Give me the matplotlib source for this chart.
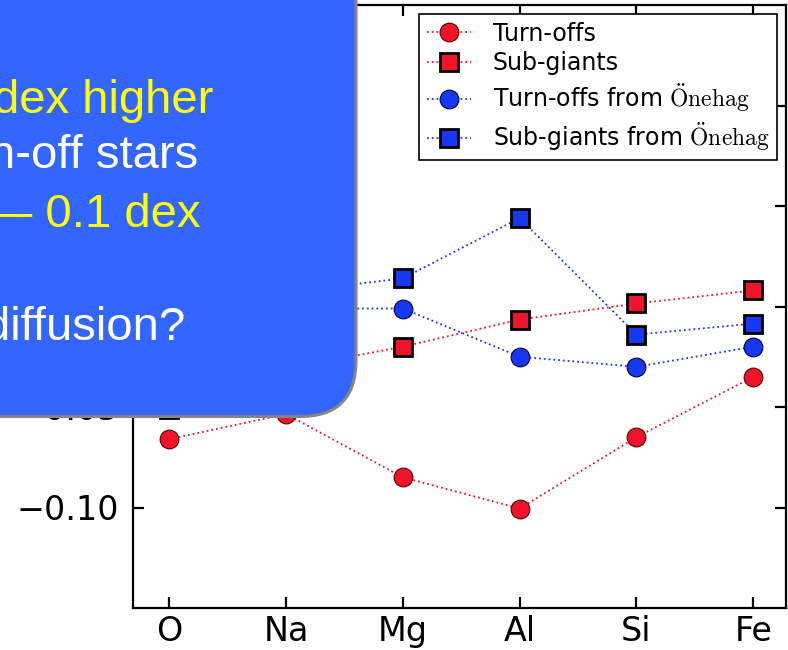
import numpy as np
import matplotlib
matplotlib.use("Agg")
import matplotlib.pyplot as plt
from matplotlib.patches import FancyBboxPatch

# element abundances, differences in dex
elements = ['O', 'Na', 'Mg', 'Al', 'Si', 'Fe']
turnoffs = [-0.066, -0.0535, -0.085, -0.1005, -0.065, -0.035]
subgiants = [-0.040, -0.031, -0.020, -0.0065, 0.0015, 0.008]
onehag_turnoffs = [-0.015, -0.001, -0.001, -0.025, -0.030, -0.020]
onehag_subgiants = [-0.051, 0.007, 0.014, 0.044, -0.014, -0.0085]
yticks = [-0.10, -0.05, 0.00, 0.05, 0.10]

# slide text lying over the plot
box_lines = ['dex higher', 'n-off stars', '\u2014 0.1 dex', 'diffusion?']
box_colors = ['#FFFF00', 'white', '#FFFF00', 'white']

plt.rcParams['mathtext.fontset'] = 'cm'

red = '#F0142A'
blue = '#1538F0'

fig = plt.figure(figsize=(7.88, 6.5), dpi=100)
ax = fig.add_axes([133/788, 42/650, 653/788, 603/650])

x = np.arange(len(elements))
ax.plot(x, turnoffs, ':', color=red, lw=1.3, marker='o', ms=13.5,
        mfc=red, mec='#550000', mew=0.8, label='Turn-offs')
ax.plot(x, subgiants, ':', color=red, lw=1.3, marker='s', ms=13.5,
        mfc=red, mec='k', mew=2, label='Sub-giants')
ax.plot(x, onehag_turnoffs, ':', color=blue, lw=1.3, marker='o', ms=13.5,
        mfc=blue, mec='#000044', mew=0.8,
        label=r'Turn-offs from $\mathrm{\ddot{O}nehag}$')
ax.plot(x, onehag_subgiants, ':', color=blue, lw=1.3, marker='s', ms=13.5,
        mfc=blue, mec='k', mew=2,
        label=r'Sub-giants from $\mathrm{\ddot{O}nehag}$')

ax.set_xlim(-0.31, 5.28)
ax.set_ylim(-0.15, 0.15)
ax.set_xticks(x)
ax.set_xticklabels(elements)
ax.set_yticks(yticks)
ax.tick_params(direction='in', top=True, right=True, length=8, width=1.6,
               labelsize=24)
ax.tick_params(axis='x', pad=5)
ax.tick_params(axis='y', pad=10)
for s in ax.spines.values():
    s.set_linewidth(1.6)

leg = ax.legend(loc='upper right', fontsize=17, numpoints=1, fancybox=False,
                framealpha=1, edgecolor='k', borderpad=0.3, labelspacing=0.25,
                handlelength=1.9, handletextpad=0.9, borderaxespad=0.4)
leg.get_frame().set_linewidth(1.2)

# rounded blue slide box (in inches)
box = FancyBboxPatch((-1.0, 2.335), 4.56, 5.0,
                     boxstyle='round,pad=0,rounding_size=0.56',
                     transform=fig.dpi_scale_trans, facecolor='#3366FF',
                     edgecolor='#858585', lw=2.2, zorder=5)
fig.add_artist(box)

text_x = [-0.07, -0.11, -0.15, -0.16]
text_y = [5.37, 4.82, 4.23, 3.10]
for t, c, tx, ty in zip(box_lines, box_colors, text_x, text_y):
    fig.text(tx, ty, t, color=c, fontsize=34, family='Liberation Sans',
             va='baseline', ha='left', transform=fig.dpi_scale_trans,
             zorder=6)

fig.savefig('out.png', dpi=100)
